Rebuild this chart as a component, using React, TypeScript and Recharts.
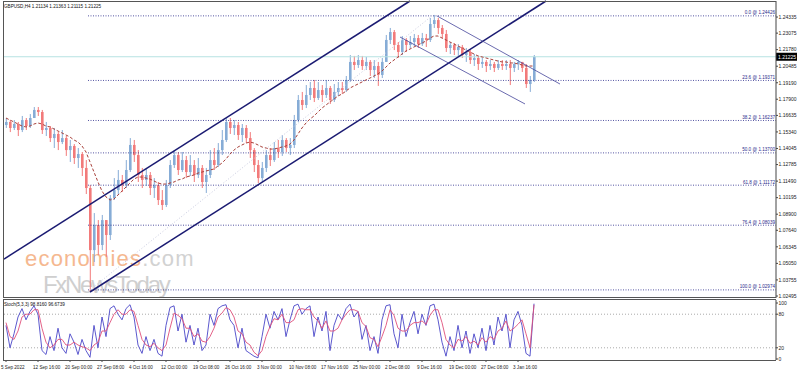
import React from "react";
import { ComposedChart, Bar, Line, XAxis, YAxis, ReferenceLine } from "recharts";

const FONT = "'Liberation Sans', Arial, sans-serif";
const UP = "#86acd6";
const DOWN = "#f27a7a";
const NAVY = "#1b1b72";
const FIB = "#2b2b8c";

// GBPUSD H4, one entry per group of bars (5 Sep 2022 - 5 Jan 2023)
const firstOpen = 1.1588;
const closes = [
  1.1612, 1.1565, 1.1596, 1.1549, 1.1627, 1.158, 1.1643, 1.1706, 1.169, 1.1549,
  1.1565, 1.1486, 1.1518, 1.1455, 1.1486, 1.1392, 1.1424, 1.133, 1.1361, 1.1252,
  1.1095, 1.0609, 1.0805, 1.0649, 1.0844, 1.0727, 1.1017, 1.1079, 1.1158, 1.1118,
  1.1236, 1.1432, 1.1353, 1.1197, 1.1158, 1.1197, 1.1095, 1.1118, 1.1001, 1.0962,
  1.1118, 1.1275, 1.1353, 1.1236, 1.1314, 1.122, 1.1275, 1.1197, 1.1252, 1.1142,
  1.1197, 1.1314, 1.1275, 1.1392, 1.1471, 1.1612, 1.1565, 1.1588, 1.151, 1.1565,
  1.1486, 1.1392, 1.1275, 1.1173, 1.1252, 1.1353, 1.1314, 1.1408, 1.1377, 1.1471,
  1.1408, 1.1432, 1.1627, 1.1784, 1.1745, 1.1823, 1.1878, 1.18, 1.1862, 1.1823,
  1.1878, 1.1784, 1.1847, 1.1878, 1.1862, 1.1941, 1.2082, 1.2058, 1.2097, 1.205,
  1.2082, 1.2019, 1.205, 1.198, 1.2082, 1.2254, 1.2316, 1.2215, 1.216, 1.2254,
  1.2215, 1.2238, 1.2269, 1.2222, 1.2269, 1.2254, 1.2379, 1.241, 1.2348, 1.2301,
  1.2191, 1.2215, 1.2175, 1.2199, 1.2136, 1.216, 1.2097, 1.2113, 1.2066, 1.2082,
  1.205, 1.2066, 1.2035, 1.2066, 1.205, 1.2066, 1.2035, 1.2066, 1.2082, 1.2035,
  1.1909, 1.1941, 1.21225,
];
const highs = [
  1.1643, 1.1627, 1.1627, 1.1612, 1.1659, 1.1643, 1.1674, 1.1729, 1.1729, 1.1706,
  1.1612, 1.158, 1.1565, 1.1533, 1.1549, 1.1502, 1.1471, 1.1439, 1.1408, 1.1377,
  1.1314, 1.1118, 1.0899, 1.0844, 1.0884, 1.0844, 1.104, 1.1173, 1.1236, 1.1197,
  1.1314, 1.1486, 1.1471, 1.1392, 1.1252, 1.1252, 1.122, 1.1173, 1.1142, 1.1079,
  1.1158, 1.1314, 1.1392, 1.1377, 1.1377, 1.1346, 1.1353, 1.1314, 1.133, 1.1275,
  1.1252, 1.1392, 1.1408, 1.1447, 1.1549, 1.1643, 1.1643, 1.1627, 1.1612, 1.1596,
  1.1588, 1.1533, 1.1408, 1.1314, 1.1299, 1.1392, 1.1408, 1.1455, 1.1471, 1.151,
  1.1486, 1.1486, 1.1667, 1.1823, 1.1847, 1.1901, 1.1925, 1.1941, 1.1925, 1.1901,
  1.1941, 1.1894, 1.1909, 1.1925, 1.1925, 1.1972, 1.2136, 1.2129, 1.2136, 1.2129,
  1.2121, 1.2097, 1.2097, 1.2082, 1.2113, 1.2293, 1.2348, 1.2332, 1.2238, 1.2285,
  1.2269, 1.2285, 1.2301, 1.2293, 1.2309, 1.2301, 1.2426, 1.245, 1.2426, 1.2371,
  1.2332, 1.2238, 1.223, 1.2222, 1.2215, 1.2191, 1.2175, 1.2144, 1.2129, 1.2113,
  1.2097, 1.2097, 1.2082, 1.2097, 1.2097, 1.2097, 1.2097, 1.2082, 1.2097, 1.2082,
  1.2066, 1.1972, 1.21363,
];
const lows = [
  1.1565, 1.1533, 1.1549, 1.1502, 1.1533, 1.1549, 1.1565, 1.1643, 1.1659, 1.1518,
  1.1502, 1.1455, 1.1408, 1.1392, 1.1439, 1.1346, 1.1299, 1.1283, 1.1252, 1.1189,
  1.1048, 1.0281, 1.0516, 1.057, 1.0609, 1.0555, 1.0688, 1.1001, 1.104, 1.1064,
  1.1095, 1.122, 1.1299, 1.1142, 1.1095, 1.1111, 1.104, 1.1017, 1.0962, 1.0923,
  1.0946, 1.1095, 1.1252, 1.1197, 1.122, 1.1173, 1.1189, 1.1142, 1.1173, 1.1095,
  1.1056, 1.1173, 1.1236, 1.1259, 1.1353, 1.1455, 1.1518, 1.151, 1.1471, 1.1455,
  1.1447, 1.133, 1.122, 1.1134, 1.1142, 1.122, 1.1267, 1.1299, 1.133, 1.1346,
  1.1377, 1.1353, 1.1408, 1.1612, 1.1706, 1.1721, 1.1784, 1.1768, 1.1784, 1.1768,
  1.18, 1.1753, 1.1768, 1.1815, 1.1831, 1.1847, 1.1925, 1.2019, 1.2035, 1.2019,
  1.2019, 1.1972, 1.1956, 1.1894, 1.1956, 1.2082, 1.2222, 1.2175, 1.2113, 1.2136,
  1.216, 1.2191, 1.2207, 1.2191, 1.2207, 1.2199, 1.2238, 1.2348, 1.2301, 1.2269,
  1.216, 1.2144, 1.2136, 1.2129, 1.2113, 1.2082, 1.2066, 1.205, 1.2019, 1.2035,
  1.2003, 1.2019, 1.2003, 1.2019, 1.2019, 1.2019, 1.1901, 1.2003, 1.2019, 1.2003,
  1.1878, 1.1847, 1.1925,
];
// dashed moving average
const maValues = [
  1.1643, 1.1627, 1.1612, 1.1596, 1.158, 1.1573, 1.158, 1.1596, 1.1604, 1.1596,
  1.158, 1.1573, 1.1557, 1.1541, 1.1526, 1.151, 1.1494, 1.1471, 1.1455, 1.1424,
  1.1377, 1.1299, 1.122, 1.1142, 1.1071, 1.1025, 1.1001, 1.1009, 1.104, 1.1071,
  1.1103, 1.1134, 1.1165, 1.1181, 1.1181, 1.1173, 1.1165, 1.115, 1.1134, 1.1126,
  1.1126, 1.1134, 1.1142, 1.1158, 1.1165, 1.1181, 1.1189, 1.1197, 1.1212, 1.122,
  1.1228, 1.1236, 1.1244, 1.1267, 1.1291, 1.1322, 1.1361, 1.1392, 1.1416, 1.1432,
  1.1447, 1.1455, 1.1447, 1.1432, 1.1416, 1.1408, 1.14, 1.14, 1.1408, 1.1416,
  1.1424, 1.1439, 1.1471, 1.1518, 1.1565, 1.1604, 1.1635, 1.1659, 1.169, 1.1721,
  1.1745, 1.1768, 1.1792, 1.1815, 1.1831, 1.1854, 1.1878, 1.1894, 1.1909, 1.1925,
  1.1941, 1.1956, 1.1972, 1.1988, 1.2011, 1.2042, 1.2074, 1.2097, 1.2121, 1.2144,
  1.2168, 1.2183, 1.2199, 1.2215, 1.223, 1.2246, 1.2269, 1.2285, 1.2285, 1.2269,
  1.2254, 1.2238, 1.2222, 1.2207, 1.2191, 1.2175, 1.216, 1.2144, 1.2129, 1.2121,
  1.2113, 1.2105, 1.2097, 1.2089, 1.2082, 1.2082, 1.2074, 1.2074, 1.2066, 1.2058,
  1.205, 1.205, 1.205,
];
const stochK = [
  60, 20, 45, 75, 90, 70, 85, 95, 80, 15,
  8, 40, 15, 55, 20, 10, 45, 30, 8, 35,
  15, 3, 60, 20, 75, 40, 90, 95, 80, 70,
  90, 97, 75, 25, 10, 40, 15, 35, 10, 5,
  60, 92, 95, 50, 80, 30, 60, 25, 55, 15,
  25, 80, 60, 90, 95, 97, 70, 60, 20, 55,
  15, 10, 5, 2, 40, 80, 55, 85, 70, 90,
  40, 70, 95, 98, 80, 90, 95, 40, 75, 50,
  85, 15, 60, 80, 70, 90, 98, 75, 85, 35,
  60, 15, 40, 10, 70, 95, 97, 45, 20, 80,
  40, 65, 85, 45, 80, 60, 95, 98, 70, 30,
  5, 40, 15, 60, 20, 50, 10, 45, 20, 55,
  15, 60, 25, 75, 50, 80, 20, 70, 85, 60,
  10, 5, 98.816,
];
const stochD = [
  65, 40, 35, 50, 75, 80, 80, 88, 88, 55,
  30, 20, 25, 35, 35, 25, 25, 30, 25, 22,
  20, 15, 25, 30, 50, 50, 65, 80, 88, 80,
  80, 88, 85, 60, 35, 25, 22, 28, 20, 15,
  25, 55, 82, 78, 72, 55, 55, 40, 45, 32,
  30, 40, 55, 75, 82, 92, 88, 75, 50, 45,
  30, 25, 12, 6, 15, 40, 58, 72, 70, 80,
  65, 65, 70, 88, 90, 88, 88, 75, 68, 55,
  68, 50, 50, 55, 70, 80, 88, 88, 85, 65,
  58, 38, 35, 22, 40, 60, 88, 78, 55, 50,
  50, 60, 65, 65, 68, 62, 78, 88, 88, 65,
  35, 25, 20, 35, 32, 40, 28, 32, 25, 38,
  30, 40, 35, 50, 55, 68, 50, 55, 62, 70,
  45, 20, 96.6739,
];

const priceTicks = [
  1.24335, 1.23075, 1.2178, 1.20485, 1.1919, 1.179, 1.16635, 1.1534, 1.14045,
  1.12785, 1.1149, 1.10195, 1.089, 1.0764, 1.06345, 1.0505, 1.03755, 1.02495,
];
const dateLabels = [
  "5 Sep 2022", "12 Sep 16:00", "20 Sep 00:00", "27 Sep 08:00", "4 Oct 16:00",
  "12 Oct 00:00", "19 Oct 08:00", "26 Oct 16:00", "3 Nov 00:00", "10 Nov 08:00",
  "17 Nov 16:00", "25 Nov 00:00", "2 Dec 08:00", "9 Dec 16:00", "19 Dec 00:00",
  "27 Dec 08:00", "3 Jan 16:00",
];
const fibLevels = [
  { pct: "0.0", price: 1.24426 },
  { pct: "23.6", price: 1.19371 },
  { pct: "38.2", price: 1.16237 },
  { pct: "50.0", price: 1.137 },
  { pct: "61.8", price: 1.11172 },
  { pct: "76.4", price: 1.08039 },
  { pct: "100.0", price: 1.02974 },
];
// drawn objects, anchored in (bar slot, price)
const trendLines = [
  { a: [-0.5, 1.0539], b: [101, 1.2559], color: NAVY, w: 1.5, dash: undefined },
  { a: [21, 1.0281], b: [135, 1.2559], color: NAVY, w: 1.5, dash: undefined },
  { a: [21, 1.02974], b: [106.5, 1.24426], color: "#c9cbe0", w: 1, dash: "1 2" },
  { a: [107.75, 1.2442], b: [138.5, 1.1909], color: "#45459a", w: 0.8, dash: undefined },
  { a: [98.5, 1.2277], b: [129.75, 1.1753], color: "#45459a", w: 0.8, dash: undefined },
];
const bid = 1.21225;

const mainData = closes.map((c, i) => ({
  i,
  open: i === 0 ? firstOpen : closes[i - 1],
  close: c,
  high: highs[i],
  low: lows[i],
  range: [lows[i], highs[i]],
  ma: maValues[i],
}));
const stochData = stochK.map((k, i) => ({ i, k, d: stochD[i] }));
const dateTicks = dateLabels.map((_, k) => k * 8);

const Candle = (props: any) => {
  const { x, y, width, height, payload } = props;
  if (!payload || height == null) return null;
  const { open, close, high, low } = payload;
  const k = high - low > 0 ? height / (high - low) : 0;
  const yOf = (v: number) => y + (high - v) * k;
  const color = close >= open ? UP : DOWN;
  const top = yOf(Math.max(open, close));
  const bot = yOf(Math.min(open, close));
  const cx = x + width / 2;
  return (
    <g>
      <line x1={cx} x2={cx} y1={y} y2={y + height} stroke={color} strokeWidth={1} />
      <rect x={x} y={top} width={width} height={Math.max(bot - top, 1)} fill={color} />
    </g>
  );
};

const FibLabel = (text: string) => (props: any) => {
  const vb = props.viewBox;
  return (
    <text x={vb.x + vb.width - 1} y={vb.y - 1.5} textAnchor="end" fontSize={4.6} fill={FIB} fontFamily={FONT}>
      {text}
    </text>
  );
};

const BidLabel = (props: any) => {
  const vb = props.viewBox;
  const x = vb.x + vb.width;
  return (
    <g>
      <rect x={x} y={vb.y - 4} width={21} height={8} fill="#000" />
      <text x={x + 2} y={vb.y + 1.8} fontSize={5} fill="#fff" fontFamily={FONT}>
        {bid.toFixed(5)}
      </text>
    </g>
  );
};

const DateTick = (props: any) => {
  const { x, y, payload } = props;
  return (
    <text x={x - 5} y={y + 4.5} fontSize={4.6} fill="#222" fontFamily={FONT}>
      {dateLabels[Math.round(payload.value / 8)]}
    </text>
  );
};

const frame = (top: number, height: number): React.CSSProperties => ({
  position: "absolute",
  left: 3,
  top,
  width: 773,
  height,
  boxSizing: "border-box",
  borderLeft: "1px solid #555",
  borderTop: "1px solid #555",
  borderBottom: "1px solid #555",
  pointerEvents: "none",
});

export default function App() {
  return (
    <div style={{ position: "absolute", left: 0, top: 0, width: 798, height: 372, background: "#fff", overflow: "hidden" }}>
      <svg width={798} height={372} style={{ position: "absolute", left: 0, top: 0 }}>
        <text x={25} y={266} fontSize={22} fontFamily={FONT} letterSpacing={1.2}>
          <tspan fill="#f5b890">economies</tspan>
          <tspan fill="#d2d2d2">.com</tspan>
        </text>
        <text x={43} y={293} fontSize={24} fontFamily={FONT} fill="#cfcfcf" letterSpacing={-2.3}>
          FxNewsToday
        </text>
      </svg>

      <div style={{ position: "absolute", left: 0, top: 0 }}>
        <ComposedChart width={798} height={298} data={mainData} margin={{ top: 1, right: 0, bottom: 0, left: 4 }}>
          <XAxis type="number" dataKey="i" domain={[-0.5, 192.5]} hide allowDataOverflow />
          <YAxis
            orientation="right"
            type="number"
            domain={[1.0234, 1.2559]}
            allowDataOverflow
            ticks={priceTicks}
            interval={0}
            width={22}
            tickSize={2}
            tickMargin={0.5}
            tickFormatter={(v: number) => v.toFixed(5)}
            tick={{ fontSize: 5, fill: "#222", fontFamily: FONT }}
            axisLine={{ stroke: "#444" }}
            tickLine={{ stroke: "#444" }}
          />
          <ReferenceLine y={bid} stroke="#b6e2e2" strokeWidth={1} label={BidLabel} ifOverflow="visible" />
          {fibLevels.map((f) => (
            <ReferenceLine
              key={f.pct}
              segment={[{ x: 20.5, y: f.price }, { x: 192.5, y: f.price }]}
              stroke={FIB}
              strokeDasharray="1 1.5"
              strokeWidth={0.8}
              ifOverflow="visible"
              label={FibLabel(`${f.pct} @ ${f.price.toFixed(5)}`)}
            />
          ))}
          <Bar dataKey="range" barSize={2.6} isAnimationActive={false} shape={(p: any) => <Candle {...p} />} />
          <Line dataKey="ma" type="linear" stroke="#a8403a" strokeWidth={1} strokeDasharray="3 2" dot={false} isAnimationActive={false} />
          {trendLines.map((t, k) => (
            <ReferenceLine
              key={k}
              segment={[{ x: t.a[0], y: t.a[1] }, { x: t.b[0], y: t.b[1] }]}
              stroke={t.color}
              strokeWidth={t.w}
              strokeDasharray={t.dash}
              ifOverflow="visible"
            />
          ))}
        </ComposedChart>
      </div>

      <div style={{ position: "absolute", left: 0, top: 299 }}>
        <ComposedChart width={798} height={73} data={stochData} margin={{ top: 1, right: 0, bottom: 0, left: 4 }}>
          <XAxis
            type="number"
            dataKey="i"
            domain={[-0.5, 192.5]}
            allowDataOverflow
            ticks={dateTicks}
            interval={0}
            height={12}
            tickSize={2}
            tick={DateTick}
            axisLine={false}
            tickLine={{ stroke: "#444" }}
          />
          <YAxis
            orientation="right"
            type="number"
            domain={[-1.8, 105.4]}
            allowDataOverflow
            ticks={[0, 20, 80, 100]}
            interval={0}
            width={22}
            tickSize={2}
            tickMargin={0.5}
            tick={{ fontSize: 5, fill: "#222", fontFamily: FONT }}
            axisLine={{ stroke: "#444" }}
            tickLine={{ stroke: "#444" }}
          />
          <ReferenceLine y={80} stroke="#aaa" strokeDasharray="1 2" />
          <ReferenceLine y={20} stroke="#aaa" strokeDasharray="1 2" />
          <Line dataKey="k" type="linear" stroke="#4a46c8" strokeWidth={0.9} dot={false} isAnimationActive={false} />
          <Line dataKey="d" type="linear" stroke="#e0507a" strokeWidth={0.9} dot={false} isAnimationActive={false} />
        </ComposedChart>
      </div>

      <div style={frame(1, 297)} />
      <div style={frame(299, 62)} />

      <svg width={798} height={372} style={{ position: "absolute", left: 0, top: 0, pointerEvents: "none" }}>
        <text x={4} y={8} fontSize={4.6} fill="#111" fontFamily={FONT}>
          GBPUSD,H4  1.21134 1.21363 1.21115 1.21225
        </text>
        <text x={4} y={305.5} fontSize={4.6} fill="#111" fontFamily={FONT}>
          Stoch(5,3,3) 98.8160 96.6739
        </text>
      </svg>
    </div>
  );
}
